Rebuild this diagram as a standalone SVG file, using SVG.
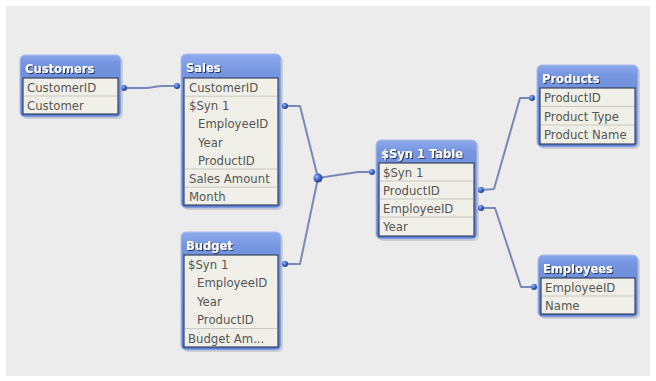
<svg xmlns="http://www.w3.org/2000/svg" width="656" height="381" viewBox="0 0 656 381">
<defs>
<linearGradient id="hdrg" x1="0" y1="0" x2="0" y2="1">
<stop offset="0" stop-color="#8eaaec"/>
<stop offset="0.12" stop-color="#7595e0"/>
<stop offset="1" stop-color="#5d7fd0"/>
</linearGradient>
<radialGradient id="dotg" cx="0.35" cy="0.35" r="0.7">
<stop offset="0" stop-color="#9fc0ff"/>
<stop offset="0.5" stop-color="#3f68c8"/>
<stop offset="1" stop-color="#1c3a8a"/>
</radialGradient>
<filter id="tsh" x="-10%" y="-30%" width="130%" height="170%">
<feDropShadow dx="1" dy="1" stdDeviation="0.4" flood-color="#1a2850" flood-opacity="0.9"/>
</filter>
</defs>
<style>
.bg{fill:#ececec}
.shadow{fill:#000;opacity:0.12}
.frame{fill:url(#hdrg);stroke:#a9bcec;stroke-width:1}
.body{fill:#f1f0e8;stroke:#38435f;stroke-width:1.2}
.sep{stroke:#c9c8c0;stroke-width:1}
.hdr{font-family:"DejaVu Sans Condensed","DejaVu Sans",sans-serif;font-stretch:condensed;font-weight:bold;font-size:12.8px;fill:#ffffff;filter:url(#tsh)}
.row{font-family:"DejaVu Sans",Verdana,sans-serif;font-size:11.7px;fill:#555555}
.link{fill:none;stroke:#7483b6;stroke-width:2;stroke-linejoin:round;opacity:0.95}
.dot{fill:url(#dotg)}
</style>
<rect class="bg" x="6" y="6" width="644" height="370"/>

<g id="connectors">
<path class="link" d="M124,88 L146,88 C152,88 156,86 162,86 L177,86"/>
<path class="link" d="M285,106 L300,106 L318,178"/>
<path class="link" d="M285,264 L300,264 L318,178"/>
<path class="link" d="M318,178 L358,172 L372,172"/>
<path class="link" d="M481,190 L494,189 L520,98 L532,98"/>
<path class="link" d="M481,208 L495,208 L521,287 L534,287"/>
<circle class="dot" cx="124" cy="88" r="3"/>
<circle class="dot" cx="177" cy="86" r="3"/>
<circle class="dot" cx="285" cy="106" r="3"/>
<circle class="dot" cx="285" cy="264" r="3"/>
<circle class="dot" cx="318" cy="178" r="4.5"/>
<circle class="dot" cx="372" cy="172" r="3"/>
<circle class="dot" cx="481" cy="190" r="3"/>
<circle class="dot" cx="481" cy="208" r="3"/>
<circle class="dot" cx="532" cy="98" r="3"/>
<circle class="dot" cx="534" cy="287" r="3"/>
</g>

<g id="customers" transform="translate(20,55)">
<rect class="shadow" x="2" y="2" width="101" height="62" rx="5"/>
<rect class="frame" x="0" y="0" width="101" height="62" rx="5"/>
<text class="hdr" x="5" y="18">Customers</text>
<rect class="body" x="3" y="23" width="95" height="36"/>
<line class="sep" x1="4" y1="41" x2="97" y2="41"/>
<text class="row" x="7" y="37">CustomerID</text>
<text class="row" x="7" y="55">Customer</text>
</g>

<g id="sales" transform="translate(181,54)">
<rect class="shadow" x="2" y="2" width="100" height="154" rx="5"/>
<rect class="frame" x="0" y="0" width="100" height="154" rx="5"/>
<text class="hdr" x="5" y="18">Sales</text>
<rect class="body" x="3" y="24" width="94" height="127"/>
<line class="sep" x1="4" y1="42.2" x2="96" y2="42.2"/>
<line class="sep" x1="4" y1="115" x2="96" y2="115"/>
<line class="sep" x1="4" y1="133.2" x2="96" y2="133.2"/>
<text class="row" x="8" y="38">CustomerID</text>
<text class="row" x="8" y="56.2">$Syn 1</text>
<text class="row" x="17" y="74.4">EmployeeID</text>
<text class="row" x="17" y="92.6">Year</text>
<text class="row" x="17" y="110.8">ProductID</text>
<text class="row" x="8" y="129">Sales Amount</text>
<text class="row" x="8" y="147.2">Month</text>
</g>

<g id="budget" transform="translate(181,232)">
<rect class="shadow" x="2" y="2" width="100" height="118" rx="5"/>
<rect class="frame" x="0" y="0" width="100" height="118" rx="5"/>
<text class="hdr" x="5" y="18">Budget</text>
<rect class="body" x="3" y="23" width="94" height="92"/>
<line class="sep" x1="4" y1="96.6" x2="96" y2="96.6"/>
<text class="row" x="7" y="37">$Syn 1</text>
<text class="row" x="16" y="55.4">EmployeeID</text>
<text class="row" x="16" y="73.8">Year</text>
<text class="row" x="16" y="92.2">ProductID</text>
<text class="row" x="7" y="110.6">Budget Am...</text>
</g>

<g id="syn1table" transform="translate(376,140)">
<rect class="shadow" x="2" y="2" width="101" height="99" rx="5"/>
<rect class="frame" x="0" y="0" width="101" height="99" rx="5"/>
<text class="hdr" x="5" y="18">$Syn 1 Table</text>
<rect class="body" x="3" y="23" width="95" height="73"/>
<line class="sep" x1="4" y1="41" x2="97" y2="41"/>
<line class="sep" x1="4" y1="59" x2="97" y2="59"/>
<line class="sep" x1="4" y1="77" x2="97" y2="77"/>
<text class="row" x="7" y="37">$Syn 1</text>
<text class="row" x="7" y="55">ProductID</text>
<text class="row" x="7" y="73">EmployeeID</text>
<text class="row" x="7" y="91">Year</text>
</g>

<g id="products" transform="translate(537,65)">
<rect class="shadow" x="2" y="2" width="101" height="82" rx="5"/>
<rect class="frame" x="0" y="0" width="101" height="82" rx="5"/>
<text class="hdr" x="5" y="18">Products</text>
<rect class="body" x="3" y="23" width="95" height="56"/>
<line class="sep" x1="4" y1="41.5" x2="97" y2="41.5"/>
<line class="sep" x1="4" y1="60" x2="97" y2="60"/>
<text class="row" x="7" y="37">ProductID</text>
<text class="row" x="7" y="55.5">Product Type</text>
<text class="row" x="7" y="74">Product Name</text>
</g>

<g id="employees" transform="translate(538,255)">
<rect class="shadow" x="2" y="2" width="100" height="62" rx="5"/>
<rect class="frame" x="0" y="0" width="100" height="62" rx="5"/>
<text class="hdr" x="5" y="18">Employees</text>
<rect class="body" x="3" y="23" width="94" height="36"/>
<line class="sep" x1="4" y1="41" x2="96" y2="41"/>
<text class="row" x="7" y="37">EmployeeID</text>
<text class="row" x="7" y="55">Name</text>
</g>
</svg>
